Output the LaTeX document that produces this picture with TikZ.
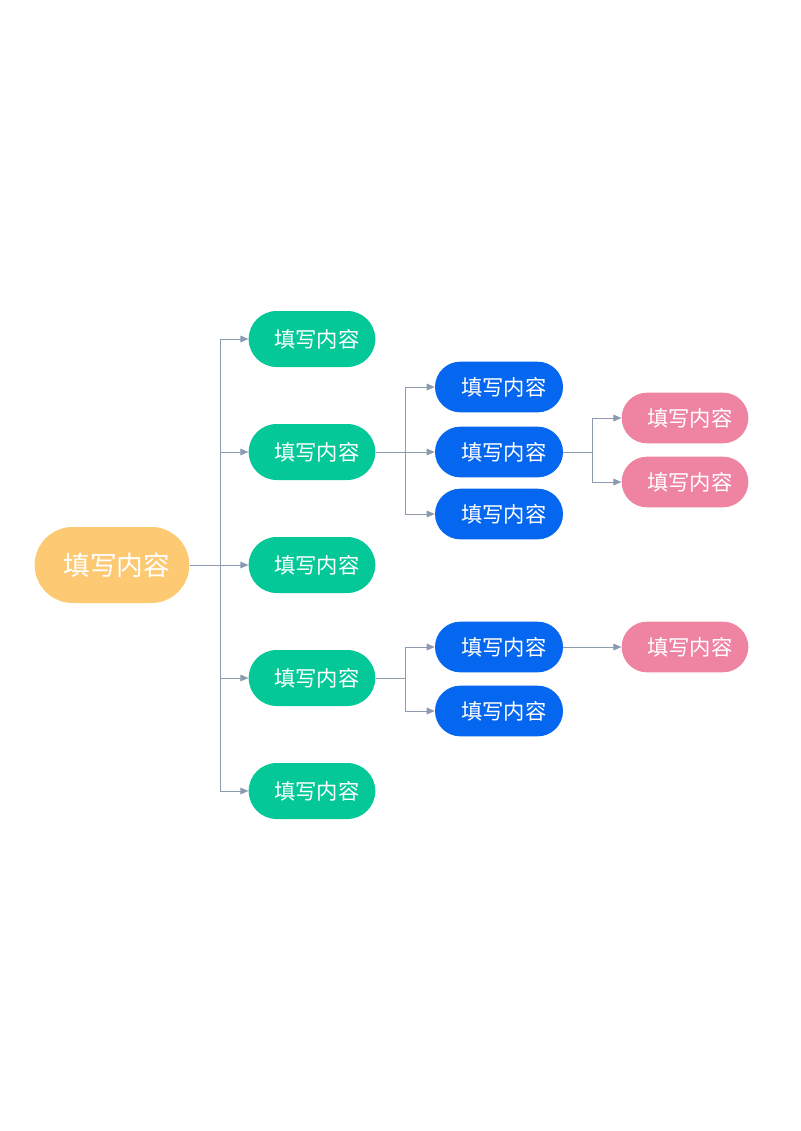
\documentclass[tikz,border=0pt]{standalone}
\usepackage{fontspec}
\setmainfont{Noto Sans CJK SC}
\usepackage{xcolor}
\usepackage{tikz}
\usetikzlibrary{arrows.meta, positioning, calc}
\definecolor{mmorange}{HTML}{FDC972}
\definecolor{mmgreen}{HTML}{05C898}
\definecolor{mmblue}{HTML}{0566F0}
\definecolor{mmpink}{HTML}{EF83A2}
\definecolor{mmline}{HTML}{8C9AB0}

\begin{document}
\begin{tikzpicture}[x=0.75pt, y=-0.75pt,
  pill/.style={rectangle, text=white, inner sep=0pt, font=\fontsize{16pt}{18pt}\selectfont,
    execute at begin node=\hspace*{7pt}},
  rootpill/.style={pill, fill=mmorange, minimum width=116pt, minimum height=57pt,
    rounded corners=28.5pt, font=\fontsize{20pt}{22pt}\selectfont},
  greenpill/.style={pill, fill=mmgreen, minimum width=95pt, minimum height=42pt, rounded corners=21pt},
  bluepill/.style={pill, fill=mmblue, minimum width=96pt, minimum height=38pt, rounded corners=19pt},
  pinkpill/.style={pill, fill=mmpink, minimum width=95pt, minimum height=38pt, rounded corners=19pt},
  conn/.style={draw=mmline, line width=0.7pt},
  arr/.style={conn, -{Triangle[length=6pt, width=5pt]}}]
  \useasboundingbox (0,0) rectangle (800,1131);
  % Root
  \node[rootpill] (root) at (112,565) {填写内容};
  % Level one
  \node[greenpill] (g1) at (312,339) {填写内容};
  \node[greenpill] (g2) at (312,452) {填写内容};
  \node[greenpill] (g3) at (312,565) {填写内容};
  \node[greenpill] (g4) at (312,678) {填写内容};
  \node[greenpill] (g5) at (312,791) {填写内容};
  % Level two
  \node[bluepill] (b1) at (499,387) {填写内容};
  \node[bluepill] (b2) at (499,452) {填写内容};
  \node[bluepill] (b3) at (499,514) {填写内容};
  \node[bluepill] (b4) at (499,647) {填写内容};
  \node[bluepill] (b5) at (499,711) {填写内容};
  % Level three
  \node[pinkpill] (p1) at (685,418) {填写内容};
  \node[pinkpill] (p2) at (685,482) {填写内容};
  \node[pinkpill] (p3) at (685,647) {填写内容};
  % Junctions
  \coordinate (j0) at (220,565);
  \coordinate (j2) at (405,452);
  \coordinate (j4) at (405,678);
  \coordinate (jb) at (592,452);
  % Connectors
  \draw[conn] (root.east) -- (j0);
  \foreach \n in {g1,g2,g3,g4,g5}
    \draw[arr] (j0) |- (\n.west);
  \draw[conn] (g2.east) -- (j2);
  \foreach \n in {b1,b2,b3}
    \draw[arr] (j2) |- (\n.west);
  \draw[conn] (g4.east) -- (j4);
  \foreach \n in {b4,b5}
    \draw[arr] (j4) |- (\n.west);
  \draw[conn] (b2.east) -- (jb);
  \foreach \n in {p1,p2}
    \draw[arr] (jb) |- (\n.west);
  \draw[arr] (b4.east) -- (p3.west);
\end{tikzpicture}
\end{document}
